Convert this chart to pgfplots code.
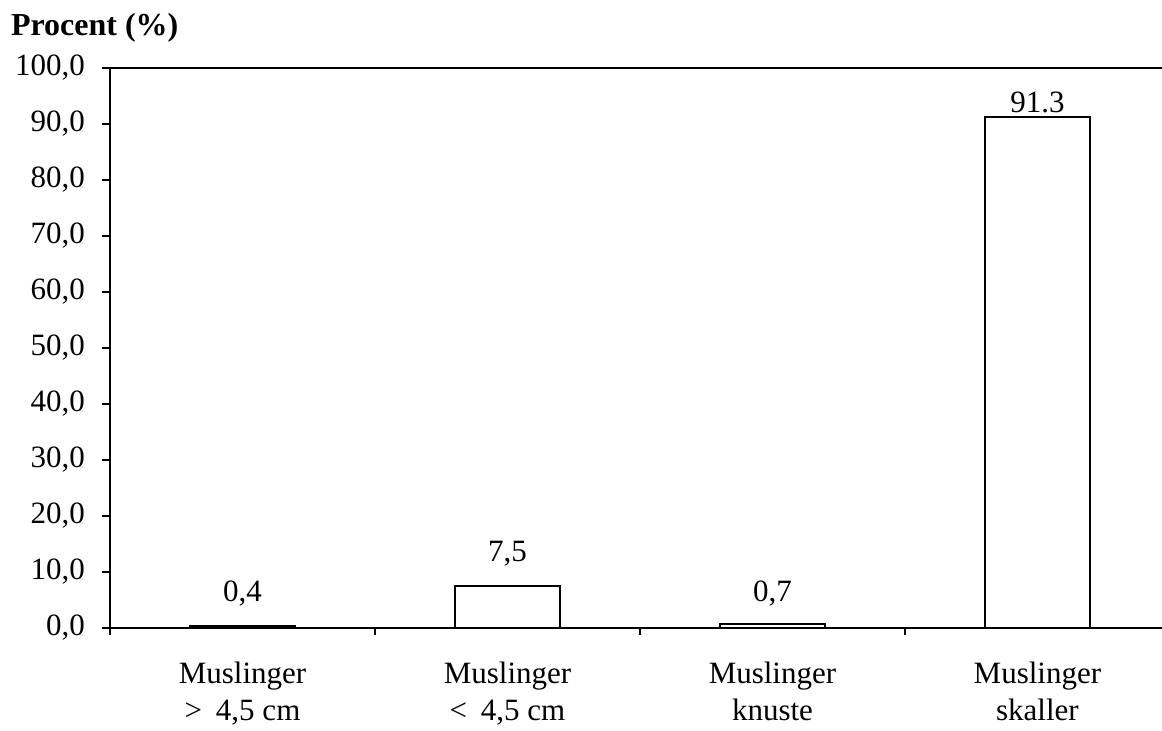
\documentclass[border=0pt]{standalone}
\usepackage{fontspec}
\setmainfont{Liberation Serif}
\usepackage{pgfplots}
\pgfplotsset{compat=1.18}
\begin{document}
\begin{tikzpicture}
\begin{axis}[
  scale only axis,
  width=526pt, height=280pt,
  at={(0,0)}, anchor=south west,
  xmin=-0.5, xmax=3.47,
  ymin=0, ymax=100,
  axis x line*=bottom,
  axis y line*=left,
  axis line style={line width=1.1pt, -},
  ytick={0,10,...,100},
  yticklabel style={font=\fontsize{15.5}{17}\selectfont, xshift=-5pt, /pgf/number format/.cd, fixed, fixed zerofill, precision=1, use comma, assume math mode=true},
  xtick={0,1,2,3},
  xticklabels={{Muslinger\\>\hspace{0.45em}4,5 cm},{Muslinger\\<\hspace{0.45em}4,5 cm},{Muslinger\\knuste},{Muslinger\\skaller}},
  xticklabel style={align=center, font=\fontsize{15.5}{18.5}\selectfont, yshift=-9.5pt},
  major x tick style={draw=none},
  minor xtick={-0.5,0.5,1.5,2.5},
  minor tick length=3.5pt,
  major tick length=4pt,
  tick align=outside,
  tick style={black, line width=0.6pt},
  ybar, bar width=52.5pt,
  nodes near coords,
  point meta=explicit symbolic,
  visualization depends on={\thisrow{dy} \as \dy},
  every node near coord/.append style={font=\fontsize{15.5}{17}\selectfont, black, anchor=base, inner sep=0pt, yshift=\dy pt},
  clip=false,
]
\addplot[draw=black, fill=white, line width=1.1pt] table[meta=lab] {
x y lab dy
0 0.4 0,4 12
1 7.5 7,5 12
2 0.7 0,7 11.5
3 91.3 91.3 2
};
\draw[line width=1.1pt] (rel axis cs:0,1) -- (rel axis cs:1,1);
\end{axis}
\node[anchor=base west, font=\fontsize{16}{18}\selectfont\bfseries] at (-53pt,296pt) {Procent (\%)};
\pgfresetboundingbox
\useasboundingbox (-55pt,-51.5pt) rectangle (526pt,314pt);
\end{tikzpicture}
\end{document}
